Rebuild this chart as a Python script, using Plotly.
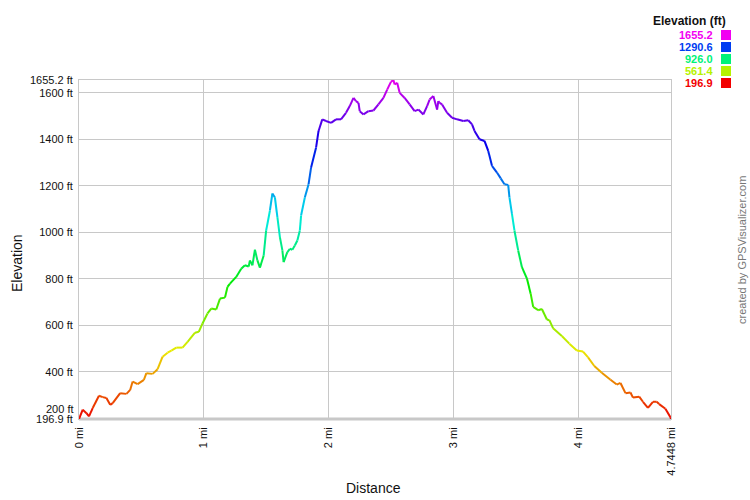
import colorsys
import plotly.graph_objects as go

dist_mi = [0.00, 0.03, 0.06, 0.08, 0.11, 0.16, 0.19, 0.22, 0.25, 0.27, 0.33, 0.38, 0.41, 0.43, 0.47,
           0.52, 0.54, 0.59, 0.63, 0.67, 0.71, 0.74, 0.78, 0.83, 0.87, 0.93, 0.96, 0.99, 1.03, 1.06,
           1.10, 1.13, 1.17, 1.19, 1.21, 1.26, 1.30, 1.33, 1.36, 1.37, 1.39, 1.41, 1.43, 1.45, 1.48,
           1.50, 1.53, 1.55, 1.57, 1.59, 1.61, 1.63, 1.64, 1.67, 1.69, 1.71, 1.73, 1.75, 1.77, 1.78,
           1.81, 1.84, 1.86, 1.90, 1.92, 1.95, 1.98, 2.02, 2.06, 2.10, 2.14, 2.17, 2.20, 2.22, 2.24,
           2.25, 2.28, 2.32, 2.36, 2.40, 2.44, 2.47, 2.50, 2.52, 2.53, 2.55, 2.57, 2.61, 2.65, 2.69,
           2.72, 2.76, 2.79, 2.81, 2.84, 2.87, 2.88, 2.89, 2.91, 2.95, 2.99, 3.03, 3.08, 3.12, 3.15,
           3.17, 3.21, 3.25, 3.28, 3.31, 3.35, 3.38, 3.41, 3.44, 3.45, 3.47, 3.49, 3.52, 3.55, 3.59,
           3.62, 3.64, 3.68, 3.71, 3.75, 3.77, 3.80, 3.87, 3.93, 3.99, 4.04, 4.08, 4.13, 4.19, 4.26,
           4.31, 4.34, 4.38, 4.42, 4.44, 4.49, 4.52, 4.56, 4.60, 4.63, 4.65, 4.70, 4.74, 4.7448]
elev_ft = [196.9, 237, 222, 208, 244, 297, 291, 287, 258, 265, 308, 305, 322, 358, 347,
           365, 394, 391, 411, 465, 482, 491, 504, 504, 529, 568, 572, 608, 651, 672,
           668, 715, 719, 765, 779, 808, 843, 858, 853, 879, 858, 925, 879, 848, 900,
           1008, 1093, 1167, 1150, 1065, 979, 922, 872, 915, 929, 925, 943, 965, 1008, 1072,
           1150, 1207, 1278, 1364, 1436, 1486, 1479, 1471, 1486, 1486, 1514, 1543, 1578, 1564, 1557,
           1521, 1507, 1521, 1524, 1550, 1578, 1614, 1647, 1655.2, 1636, 1643, 1600, 1578, 1550, 1521,
           1528, 1507, 1543, 1571, 1586, 1528, 1564, 1557, 1550, 1514, 1493, 1486, 1479, 1482, 1464,
           1436, 1400, 1393, 1350, 1286, 1257, 1232, 1207, 1204, 1150, 1079, 1008, 922, 850, 801,
           736, 679, 665, 670, 625, 622, 587, 554, 521, 492, 487, 462, 425, 396, 366,
           345, 352, 308, 311, 289, 293, 271, 245, 271, 271, 261, 241, 205, 196.9]

y_tick_vals = [196.9, 200, 400, 600, 800, 1000, 1200, 1400, 1600, 1655.2]
y_tick_text = ["196.9 ft", "200 ft", "400 ft", "600 ft", "800 ft", "1000 ft", "1200 ft", "1400 ft", "1600 ft", "1655.2 ft"]
x_tick_vals = [0, 1, 2, 3, 4, 4.7448]
x_tick_text = ["0 mi", "1 mi", "2 mi", "3 mi", "4 mi", "4.7448 mi"]
legend_vals = [1655.2, 1290.6, 926.0, 561.4, 196.9]
legend_text = ["1655.2", "1290.6", "926.0", "561.4", "196.9"]

EMIN, EMAX = 196.9, 1655.2
W, H = 750, 500
ML, MT = 79, 80
MR = W - 671
MB = H - 419
PW, PH = W - ML - MR, H - MT - MB


def elev_color(e, v=0.92):
    f = (e - EMIN) / (EMAX - EMIN)
    f = min(max(f, 0), 1)
    r, g, b = colorsys.hsv_to_rgb(f * 300 / 360, 1.0, v)
    return "rgb(%d,%d,%d)" % (round(r * 255), round(g * 255), round(b * 255))


def px(xp, yp):
    return (xp - ML) / PW, (H - MB - yp) / PH


fig = go.Figure()
for i in range(len(dist_mi) - 1):
    em = (elev_ft[i] + elev_ft[i + 1]) / 2
    fig.add_trace(go.Scatter(
        x=[dist_mi[i], dist_mi[i + 1]], y=[elev_ft[i], elev_ft[i + 1]],
        mode="lines", line=dict(color=elev_color(em), width=2),
        showlegend=False, hoverinfo="skip"))

font = "Liberation Sans, Arial, sans-serif"
ytext_axis = [t if t != "200 ft" else "" for t in y_tick_text]

fig.update_layout(
    width=W, height=H,
    margin=dict(l=ML, r=MR, t=MT, b=MB, pad=0),
    paper_bgcolor="white", plot_bgcolor="white",
    font=dict(family=font, size=11, color="#111"),
    showlegend=False,
    xaxis=dict(range=[0, 4.7448], tickvals=x_tick_vals, ticktext=x_tick_text,
               tickangle=-90, showgrid=True, gridcolor="#c8c8c8", gridwidth=1,
               showline=True, linecolor="#c8c8c8", linewidth=1, mirror=True,
               zeroline=False, ticks="", ticklabelstandoff=3, automargin=False,
               title=dict(text="")),
    yaxis=dict(range=[EMIN, EMAX], tickvals=y_tick_vals, ticktext=ytext_axis,
               showgrid=True, gridcolor="#c8c8c8", gridwidth=1,
               showline=True, linecolor="#c8c8c8", linewidth=1, mirror=True,
               zeroline=False, ticks="", ticklabelstandoff=3, automargin=False,
               title=dict(text="")),
)

# thicker bottom axis line
fig.add_shape(type="line", xref="paper", yref="paper", x0=0, x1=1, y0=0, y1=0,
              line=dict(color="#c8c8c8", width=3), layer="below")

# axis titles
ax, ay = px(373, 488)
fig.add_annotation(x=ax, y=ay, xref="paper", yref="paper", text="Distance", showarrow=False,
                   xanchor="center", yanchor="middle", font=dict(size=14, family=font, color="#111"))
ax, ay = px(17, 263)
fig.add_annotation(x=ax, y=ay, xref="paper", yref="paper", text="Elevation", showarrow=False,
                   textangle=-90, xanchor="center", yanchor="middle",
                   font=dict(size=14, family=font, color="#111"))

# nudged "200 ft" label
ax, ay = px(76, 409)
fig.add_annotation(x=ax, y=ay, xref="paper", yref="paper", text="200 ft", showarrow=False,
                   xanchor="right", yanchor="middle", font=dict(size=11, family=font, color="#111"))

# legend block at top right
ax, ay = px(728, 21)
fig.add_annotation(x=ax, y=ay, xref="paper", yref="paper", text="<b>Elevation (ft)</b>",
                   showarrow=False, xanchor="right", yanchor="middle",
                   font=dict(size=12, family=font, color="#111"))
for k, (v, t) in enumerate(zip(legend_vals, legend_text)):
    yc = 35 + k * 12
    c = elev_color(v, v=0.95)
    ax, ay = px(715, yc)
    fig.add_annotation(x=ax, y=ay, xref="paper", yref="paper", text="<b>%s</b>" % t,
                       showarrow=False, xanchor="right", yanchor="middle",
                       font=dict(size=11, family=font, color=c))
    x0, y1 = px(721, yc - 5)
    x1, y0 = px(731, yc + 5)
    fig.add_shape(type="rect", xref="paper", yref="paper", x0=x0, x1=x1, y0=y0, y1=y1,
                  fillcolor=c, line=dict(width=0))

ax, ay = px(742, 250)
fig.add_annotation(x=ax, y=ay, xref="paper", yref="paper", text="created by GPSVisualizer.com",
                   showarrow=False, textangle=-90, xanchor="center", yanchor="middle",
                   font=dict(size=11, family=font, color="#777"))

fig.write_html("out.html", config={"displayModeBar": False},
               post_script="document.body.style.margin='0';document.body.style.overflow='hidden';")
